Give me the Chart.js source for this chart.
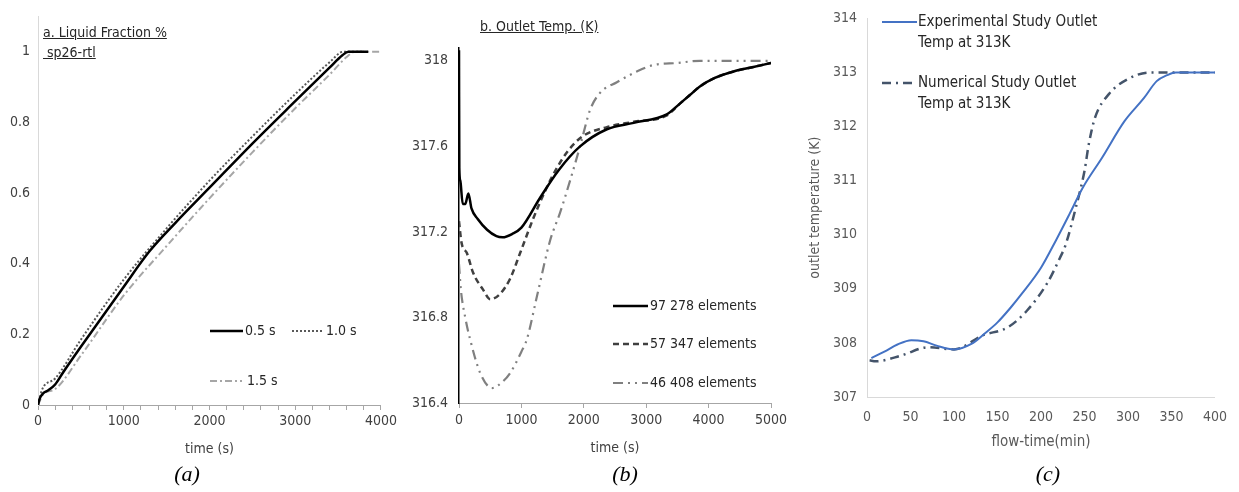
<!DOCTYPE html>
<html>
<head>
<meta charset="utf-8">
<script src="https://cdn.jsdelivr.net/npm/chart.js@4.4.1/dist/chart.umd.min.js"></script>
<style>
    body { margin: 0; background: #fff; width: 1239px; height: 492px; position: relative; overflow: hidden; }
    canvas { position: absolute; top: 0; }
    .lbl { position: absolute; font-family: 'Liberation Sans Narrow', 'DejaVu Sans Condensed', sans-serif; font-size: 14px; color: #262626; white-space: pre; line-height: 20px; }
    .lbl u { text-decoration: underline; }
    .cap { position: absolute; top: 461px; font-family: 'Liberation Serif', 'DejaVu Serif', serif; font-style: italic; font-size: 22px; color: #000; width: 60px; text-align: center; }
</style>
</head>
<body>
<canvas id="chart-a" width="400" height="470" style="left:0px"></canvas>
<canvas id="chart-b" width="400" height="470" style="left:400px"></canvas>
<canvas id="chart-c" width="439" height="470" style="left:800px"></canvas>

<div class="lbl" style="left:43px; top:22px;"><u>a. Liquid Fraction %</u><br><u> sp26-rtl</u></div>
<div class="lbl" style="left:480px; top:16px;"><u>b. Outlet Temp. (K)</u></div>
<div class="cap" style="left:157px;">(a)</div>
<div class="cap" style="left:595px;">(b)</div>
<div class="cap" style="left:1018px;">(c)</div>

<script>
// (a) liquid fraction vs time (s)
const aTime05 = [0, 20, 60, 120, 200, 300, 500, 750, 1000, 1300, 1600, 2000, 2500, 3000, 3400, 3550, 3620, 3850];
const aFrac05 = [0, 0.018, 0.033, 0.042, 0.058, 0.095, 0.165, 0.25, 0.335, 0.435, 0.515, 0.615, 0.74, 0.86, 0.955, 0.99, 1, 1];
const aTime10 = [0, 50, 200, 500, 1000, 1500, 2000, 2500, 3000, 3400, 3560, 3800];
const aFrac10 = [0, 0.045, 0.075, 0.185, 0.355, 0.5, 0.635, 0.76, 0.88, 0.97, 1, 1];
const aTime15 = [0, 60, 200, 500, 1000, 1500, 2000, 2500, 3000, 3400, 3600, 3700, 4000];
const aFrac15 = [0, 0.03, 0.045, 0.14, 0.31, 0.45, 0.585, 0.715, 0.84, 0.935, 0.985, 1, 1];
const aYTicks = [0, 0.2, 0.4, 0.6, 0.8, 1];

// (b) outlet temperature (K) vs time (s)
const bTime97 = [0, 5, 20, 60, 100, 150, 200, 300, 450, 600, 700, 850, 1000, 1300, 1600, 1940, 2370, 2800, 3330, 3540, 3700, 3860, 4100, 4400, 4700, 5000];
const bTemp97 = [318.05, 317.5, 317.44, 317.33, 317.33, 317.38, 317.31, 317.26, 317.21, 317.18, 317.175, 317.19, 317.22, 317.36, 317.49, 317.6, 317.68, 317.71, 317.75, 317.8, 317.84, 317.88, 317.92, 317.95, 317.97, 317.99];
const bTime57 = [0, 40, 128, 225, 385, 500, 657, 817, 978, 1186, 1410, 1570, 1750, 1970, 2370, 2800, 3330, 3540, 3700, 3860, 4100, 4400, 4700, 5000];
const bTemp57 = [317.25, 317.15, 317.1, 317.01, 316.93, 316.885, 316.91, 316.98, 317.1, 317.26, 317.41, 317.5, 317.58, 317.645, 317.69, 317.715, 317.745, 317.8, 317.84, 317.88, 317.92, 317.95, 317.97, 317.99];
const bTime46 = [0, 30, 100, 176, 340, 530, 700, 820, 1000, 1090, 1250, 1460, 1620, 1780, 1940, 2100, 2260, 2530, 2850, 3110, 3500, 3860, 4400, 5000];
const bTemp46 = [317.05, 316.93, 316.8, 316.7, 316.54, 316.47, 316.5, 316.54, 316.64, 316.7, 316.9, 317.16, 317.29, 317.44, 317.6, 317.77, 317.85, 317.9, 317.95, 317.98, 317.99, 318.0, 318.0, 318.0];
const bYTicks = [316.4, 316.8, 317.2, 317.6, 318];

// (c) outlet temperature (K) vs flow-time (min)
const cTimeExp = [5, 20, 35, 51, 65, 80, 100, 120, 135, 150, 165, 178, 200, 217, 233, 248, 270, 296, 318, 333, 345, 355, 380, 400];
const cTempExp = [307.72, 307.84, 307.97, 308.05, 308.03, 307.95, 307.88, 307.98, 308.17, 308.38, 308.65, 308.91, 309.39, 309.89, 310.39, 310.87, 311.42, 312.1, 312.52, 312.84, 312.95, 313.0, 313.0, 313.0];
const cTimeNum = [3, 10, 40, 70, 100, 133, 162, 184, 207, 222, 228, 240, 250, 255, 262, 278, 300, 325, 350, 400];
const cTempNum = [307.68, 307.66, 307.77, 307.92, 307.88, 308.14, 308.29, 308.6, 309.1, 309.58, 309.8, 310.5, 311.18, 311.68, 312.16, 312.6, 312.88, 313.0, 313.0, 313.0];

const narrow = "'Liberation Sans Narrow', 'DejaVu Sans Condensed', sans-serif";

function points(xs, ys) {
    return xs.map((x, i) => ({ x: x, y: ys[i] }));
}

function line(label, xs, ys, color, width, dash) {
    return {
        label: label,
        data: points(xs, ys),
        borderColor: color,
        borderWidth: width,
        borderDash: dash,
        pointRadius: 0,
        fill: false,
        tension: 0.4,
        cubicInterpolationMode: 'monotone'
    };
}

// draws a line sample plus text for each item, using the dataset's own style
function makeLegend(items, font, color) {
    return {
        id: 'lineLegend',
        afterDraw(chart) {
            const ctx = chart.ctx;
            ctx.save();
            ctx.font = font;
            ctx.fillStyle = color;
            ctx.textBaseline = 'middle';
            items.forEach(item => {
                const ds = chart.data.datasets[item.ds];
                ctx.beginPath();
                ctx.setLineDash(item.dash || ds.borderDash || []);
                ctx.strokeStyle = ds.borderColor;
                ctx.lineWidth = ds.borderWidth;
                ctx.moveTo(item.x, item.y);
                ctx.lineTo(item.x + item.len, item.y);
                ctx.stroke();
                item.text.forEach((t, i) => ctx.fillText(t, item.tx, item.y + i * 21));
            });
            ctx.restore();
        }
    };
}

function fixWidth(w) { return scale => { scale.width = w; }; }
function fixHeight(h) { return scale => { scale.height = h; }; }

const tickFont = { family: narrow, size: 14 };

// ---- chart (a)
new Chart(document.getElementById('chart-a').getContext('2d'), {
    type: 'line',
    data: {
        datasets: [
            line('0.5 s', aTime05, aFrac05, '#000000', 2.5, []),
            line('1.0 s', aTime10, aFrac10, '#595959', 2, [2, 2]),
            line('1.5 s', aTime15, aFrac15, '#a6a6a6', 2, [7, 3, 2, 3])
        ]
    },
    options: {
        responsive: false,
        animation: false,
        layout: { padding: { left: 0, right: 18, top: 9, bottom: 0 } },
        plugins: { legend: { display: false }, tooltip: { enabled: false } },
        scales: {
            x: {
                type: 'linear',
                min: 0,
                max: 4000,
                afterFit: fixHeight(65),
                border: { color: '#a6a6a6', width: 1 },
                grid: { drawOnChartArea: false, drawTicks: true, tickLength: 5, color: '#a6a6a6' },
                ticks: {
                    stepSize: 200, autoSkip: false, maxRotation: 0, color: '#404040', font: tickFont, padding: 3,
                    callback: v => (v % 1000 === 0 ? String(v) : '')
                },
                title: { display: true, text: 'time (s)', color: '#404040', font: tickFont, padding: { top: 4, bottom: 12 } }
            },
            y: {
                type: 'linear',
                min: 0,
                max: 1.1,
                afterFit: fixWidth(38),
                afterBuildTicks: scale => { scale.ticks = aYTicks.map(v => ({ value: v })); },
                border: { color: '#d9d9d9', width: 1 },
                grid: { display: false, drawTicks: false },
                ticks: { color: '#404040', font: tickFont, padding: 8, callback: v => String(+v.toFixed(1)) }
            }
        }
    },
    plugins: [makeLegend([
        { ds: 0, x: 210, y: 331, len: 33, tx: 245, text: ['0.5 s'] },
        { ds: 1, x: 292, y: 331, len: 31, tx: 326, text: ['1.0 s'] },
        { ds: 2, x: 210, y: 381, len: 32, tx: 247, text: ['1.5 s'] }
    ], '14px ' + narrow, '#262626')]
});

// ---- chart (b)
new Chart(document.getElementById('chart-b').getContext('2d'), {
    type: 'line',
    data: {
        datasets: [
            line('97 278 elements', bTime97, bTemp97, '#000000', 2.5, []),
            line('57 347 elements', bTime57, bTemp57, '#404040', 2.5, [6, 4]),
            line('46 408 elements', bTime46, bTemp46, '#808080', 2.2, [10, 5, 2, 5, 2, 5])
        ]
    },
    options: {
        responsive: false,
        animation: false,
        layout: { padding: { left: 0, right: 29, top: 48, bottom: 0 } },
        plugins: { legend: { display: false }, tooltip: { enabled: false } },
        scales: {
            x: {
                type: 'linear',
                min: 0,
                max: 5000,
                afterFit: fixHeight(67),
                border: { color: '#a6a6a6', width: 1 },
                grid: { drawOnChartArea: false, drawTicks: true, tickLength: 5, color: '#a6a6a6' },
                ticks: {
                    stepSize: 1000, autoSkip: false, maxRotation: 0, color: '#404040', font: tickFont, padding: 4,
                    callback: v => String(v)
                },
                title: { display: true, text: 'time (s)', color: '#404040', font: tickFont, padding: { top: 4, bottom: 13 } }
            },
            y: {
                type: 'linear',
                min: 316.4,
                max: 318.06,
                afterFit: fixWidth(59),
                afterBuildTicks: scale => { scale.ticks = bYTicks.map(v => ({ value: v })); },
                border: { color: '#000000', width: 1.5 },
                grid: { display: false, drawTicks: false },
                ticks: { color: '#404040', font: tickFont, padding: 11, callback: v => String(+v.toFixed(1)) }
            }
        }
    },
    plugins: [makeLegend([
        { ds: 0, x: 213, y: 306, len: 35, tx: 250, text: ['97 278 elements'] },
        { ds: 1, x: 213, y: 344, len: 35, tx: 250, text: ['57 347 elements'] },
        { ds: 2, x: 213, y: 383, len: 35, tx: 250, text: ['46 408 elements'] }
    ], '14px ' + narrow, '#262626')]
});

// ---- chart (c)
const cFont = { family: narrow, size: 14 };
new Chart(document.getElementById('chart-c').getContext('2d'), {
    type: 'line',
    data: {
        datasets: [
            line('Experimental Study Outlet Temp at 313K', cTimeExp, cTempExp, '#4472c4', 2, []),
            line('Numerical Study Outlet Temp at 313K', cTimeNum, cTempNum, '#44546a', 2.5, [9, 5, 2, 5])
        ]
    },
    options: {
        responsive: false,
        animation: false,
        layout: { padding: { left: 0, right: 14, top: 17, bottom: 0 } },
        plugins: { legend: { display: false }, tooltip: { enabled: false } },
        scales: {
            x: {
                type: 'linear',
                min: 0,
                max: 400,
                afterFit: fixHeight(73),
                border: { color: '#d9d9d9', width: 1 },
                grid: { display: false, drawTicks: false },
                ticks: { stepSize: 50, autoSkip: false, maxRotation: 0, color: '#595959', font: cFont, padding: 12 },
                title: { display: true, text: 'flow-time(min)', color: '#595959', font: { family: narrow, size: 15 }, padding: { top: 4, bottom: 19 } }
            },
            y: {
                type: 'linear',
                min: 307,
                max: 314,
                afterFit: fixWidth(67),
                border: { color: '#d9d9d9', width: 1 },
                grid: { display: false, drawTicks: false },
                ticks: { stepSize: 1, color: '#595959', font: cFont, padding: 10 },
                title: { display: true, text: 'outlet temperature (K)', color: '#595959', font: { family: narrow, size: 14 }, padding: { top: 7, bottom: 0 } }
            }
        }
    },
    plugins: [makeLegend([
        { ds: 0, x: 82, y: 22, len: 35, tx: 118, text: ['Experimental Study Outlet', 'Temp at 313K'] },
        { ds: 1, x: 82, y: 83, len: 35, tx: 118, text: ['Numerical Study Outlet', 'Temp at 313K'] }
    ], '15px ' + narrow, '#262626')]
});
</script>
</body>
</html>
